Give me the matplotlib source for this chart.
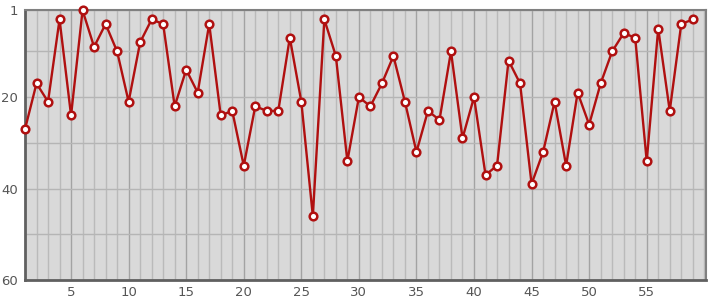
import matplotlib
matplotlib.use("Agg")
import matplotlib.pyplot as plt
from matplotlib.ticker import MultipleLocator, FixedLocator

x_values = list(range(1, 60))
ranks = [27, 17, 21, 3, 24, 1, 9, 4, 10, 21,
         8, 3, 4, 22, 14, 19, 4, 24, 23, 35,
         22, 23, 23, 7, 21, 46, 3, 11, 34, 20,
         22, 17, 11, 21, 32, 23, 25, 10, 29, 20,
         37, 35, 12, 17, 39, 32, 21, 35, 19, 26,
         17, 10, 6, 7, 34, 5, 23, 4, 3]
y_tick_labels = [1, 20, 40, 60]
x_tick_labels = [5, 10, 15, 20, 25, 30, 35, 40, 45, 50, 55]

fig = plt.figure(figsize=(7.15, 3.0), dpi=100)
ax = fig.add_axes([25/715, 20/300, 681/715, 269.7/300])
ax.set_facecolor("#d9d9d9")

ax.set_xlim(1, 60.15)
ax.set_ylim(60, 1)

ax.xaxis.set_major_locator(FixedLocator(x_tick_labels))
ax.xaxis.set_minor_locator(MultipleLocator(1))
ax.yaxis.set_major_locator(FixedLocator(y_tick_labels))
ax.yaxis.set_minor_locator(FixedLocator([10, 30, 50]))

ax.grid(which="major", axis="x", color="#a3a3a3", linewidth=1.0)
ax.grid(which="minor", axis="x", color="#bababa", linewidth=1.0)
ax.grid(which="major", axis="y", color="#b5b5b5", linewidth=1.0)
ax.grid(which="minor", axis="y", color="#b5b5b5", linewidth=1.0)
ax.set_axisbelow(True)

ax.tick_params(which="both", length=0, labelsize=9.5, colors="#555555", pad=4)
ax.tick_params(axis="y", pad=5)

for side in ["left", "bottom"]:
    ax.spines[side].set_color("#606060")
    ax.spines[side].set_linewidth(2.0)
for side in ["top", "right"]:
    ax.spines[side].set_color("#808080")
    ax.spines[side].set_linewidth(1.5)

ax.plot(x_values, ranks, color="#b01010", linewidth=1.7, marker="o",
        markersize=5.5, markerfacecolor="white", markeredgecolor="#b01010",
        markeredgewidth=1.8, clip_on=False, zorder=3)

fig.savefig("out.png", dpi=100)
